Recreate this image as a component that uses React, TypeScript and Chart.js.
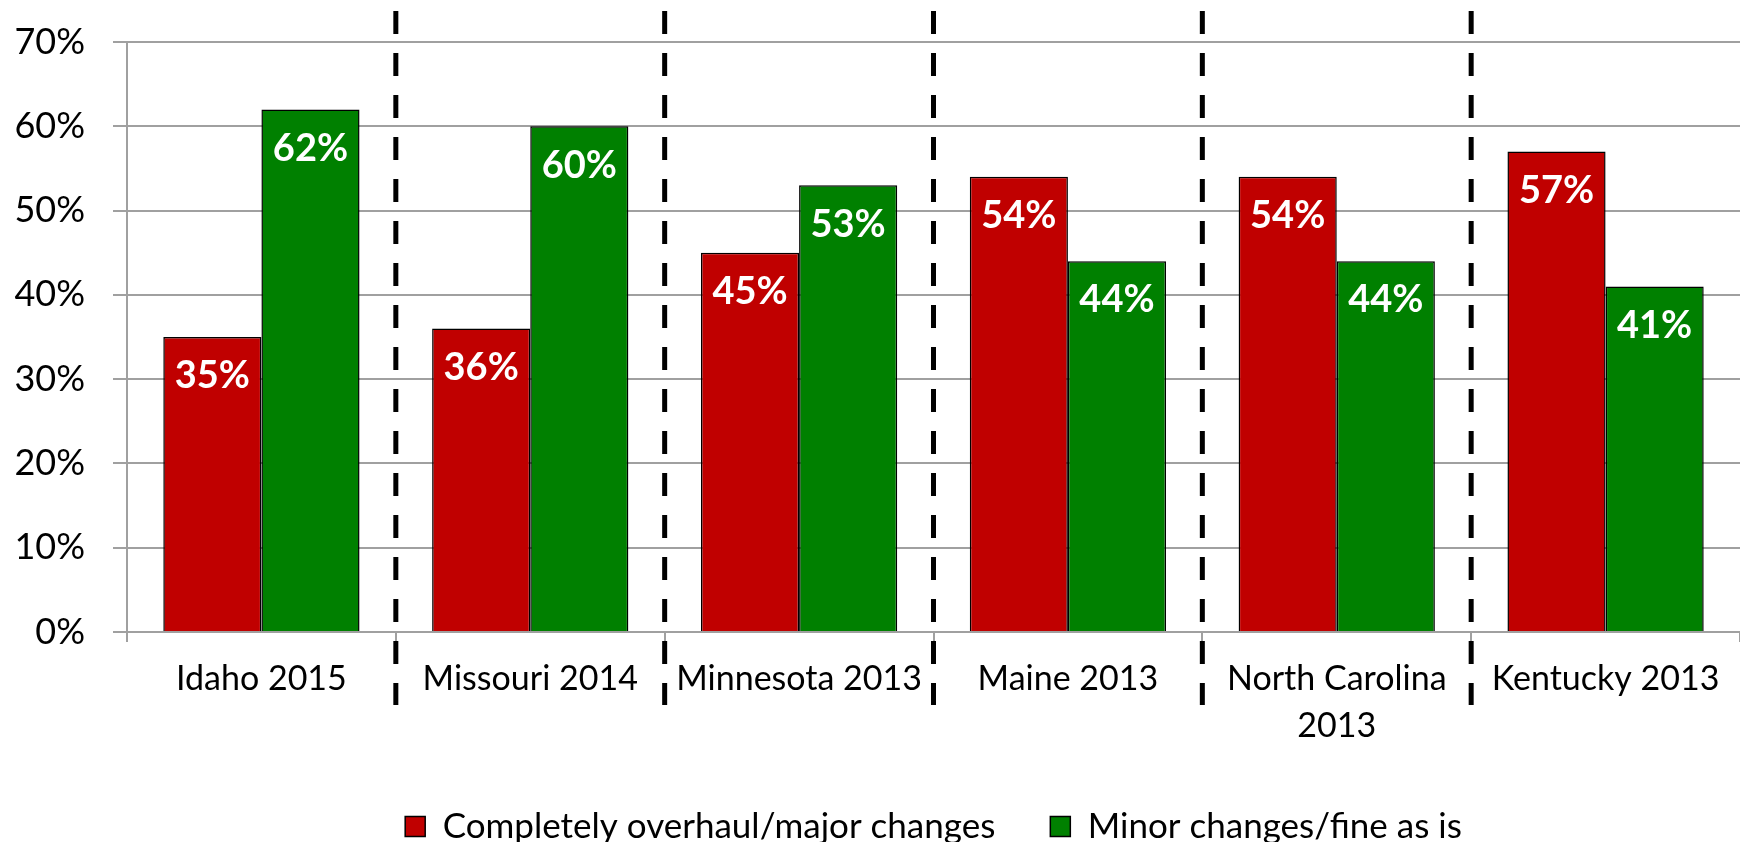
import React, { useEffect, useRef } from "react";
import { Chart, registerables } from "chart.js";

Chart.register(...registerables);

const categories: (string | string[])[] = [
  "Idaho 2015",
  "Missouri 2014",
  "Minnesota 2013",
  "Maine 2013",
  ["North Carolina", "2013"],
  "Kentucky 2013",
];
const majorChanges = [35, 36, 45, 54, 54, 57];
const minorChanges = [62, 60, 53, 44, 44, 41];
const seriesNames = ["Completely overhaul/major changes", "Minor changes/fine as is"];
const seriesColors = ["#C00000", "#008000"];
const yTicks = [0, 10, 20, 30, 40, 50, 60, 70];

const FONT = "Lato, 'Noto Sans', sans-serif";

const valueLabels = {
  id: "valueLabels",
  afterDatasetsDraw(chart: any) {
    const ctx = chart.ctx;
    ctx.save();
    ctx.fillStyle = "#FFFFFF";
    ctx.font = `bold 38px ${FONT}`;
    ctx.textAlign = "center";
    ctx.textBaseline = "middle";
    chart.data.datasets.forEach((ds: any, di: number) => {
      const meta = chart.getDatasetMeta(di);
      meta.data.forEach((el: any, i: number) => {
        ctx.fillText(`${ds.data[i]}%`, el.x, el.y + 39);
      });
    });
    ctx.restore();
  },
};

const separators = {
  id: "separators",
  afterDraw(chart: any) {
    const ctx = chart.ctx;
    const xs = chart.scales.x;
    const area = chart.chartArea;
    ctx.save();
    ctx.strokeStyle = "#000000";
    ctx.lineWidth = 5;
    ctx.setLineDash([23, 19]);
    for (let i = 0; i < categories.length - 1; i++) {
      const x = (xs.getPixelForValue(i) + xs.getPixelForValue(i + 1)) / 2;
      ctx.beginPath();
      ctx.moveTo(x, area.top - 31);
      ctx.lineTo(x, area.bottom + 73);
      ctx.stroke();
    }
    ctx.restore();
  },
};

export default function App() {
  const ref = useRef<HTMLCanvasElement>(null);
  useEffect(() => {
    document.body.style.margin = "0";
    const chart = new Chart(ref.current as HTMLCanvasElement, {
      type: "bar",
      data: {
        labels: categories,
        datasets: [
          {
            label: seriesNames[0],
            data: majorChanges,
            backgroundColor: seriesColors[0],
            borderColor: "#000000",
            borderWidth: 1.5,
            categoryPercentage: 0.73,
            barPercentage: 1.0,
          },
          {
            label: seriesNames[1],
            data: minorChanges,
            backgroundColor: seriesColors[1],
            borderColor: "#000000",
            borderWidth: 1.5,
            categoryPercentage: 0.73,
            barPercentage: 1.0,
          },
        ],
      },
      options: {
        responsive: false,
        animation: false,
        layout: { padding: { top: 42, bottom: -12, left: 0, right: 0 } },
        plugins: {
          tooltip: { enabled: false },
          legend: {
            position: "bottom",
            fullSize: false,
            labels: {
              boxWidth: 20,
              boxHeight: 20,
              padding: 55,
              color: "#000000",
              font: { family: FONT, size: 35 },
            },
          },
        },
        scales: {
          x: {
            afterFit: (s: any) => {
              s.height = 122;
            },
            grid: {
              display: true,
              offset: true,
              drawOnChartArea: false,
              tickLength: 10,
              color: "#A0A0A0",
              lineWidth: 2,
            },
            border: { color: "#A0A0A0", width: 2 },
            ticks: {
              color: "#000000",
              padding: 13,
              maxRotation: 0,
              autoSkip: false,
              font: { family: FONT, size: 34, lineHeight: 1.4 },
            },
          },
          y: {
            min: 0,
            max: 70,
            afterFit: (s: any) => {
              s.width = 127;
              s.paddingTop = 0;
              s.paddingBottom = 0;
            },
            afterBuildTicks: (s: any) => {
              s.ticks = yTicks.map((v) => ({ value: v }));
            },
            grid: {
              color: "#A0A0A0",
              lineWidth: 2,
              tickLength: 14,
            },
            border: { color: "#A0A0A0", width: 2 },
            ticks: {
              color: "#000000",
              padding: 28,
              callback: (v: any) => `${v}%`,
              font: { family: FONT, size: 36 },
            },
          },
        },
      },
      plugins: [valueLabels, separators],
    });
    return () => chart.destroy();
  }, []);
  return (
    <div style={{ width: 1740, height: 842 }}>
      <canvas ref={ref} width={1740} height={842} style={{ display: "block" }} />
    </div>
  );
}
